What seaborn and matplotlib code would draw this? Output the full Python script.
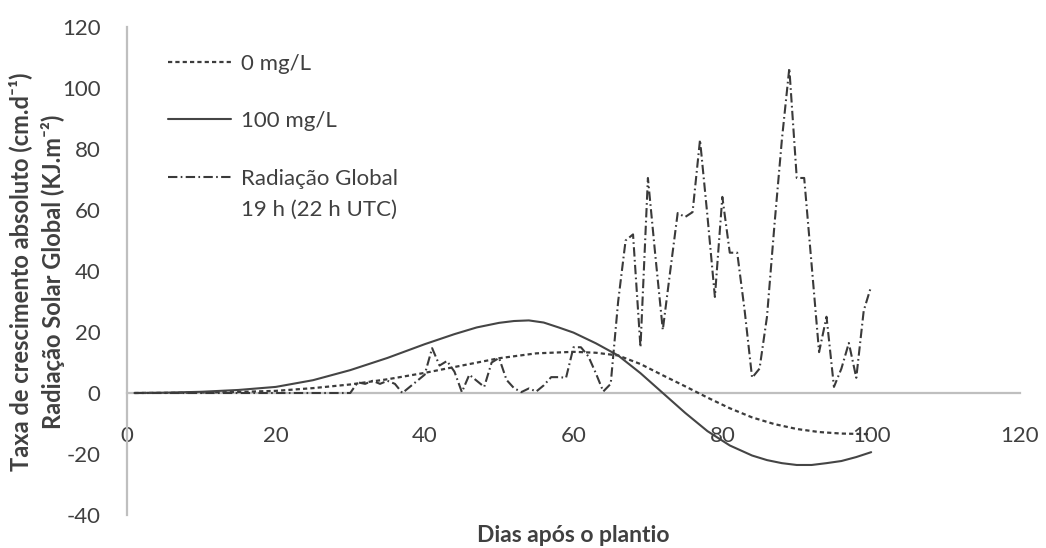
import matplotlib
matplotlib.use("Agg")
import matplotlib.pyplot as plt
import seaborn as sns

# Absolute growth rate, 0 mg/L treatment (cm per day)
dose0_days = [1, 5, 10, 15, 20, 25, 30, 35, 40, 45, 50, 55, 60, 63, 66, 69,
              72, 75, 78, 81, 84, 87, 90, 93, 96, 100]
dose0_values = [0.0, 0.05, 0.15, 0.35, 0.7, 1.6, 2.8, 4.5, 6.6, 9.0, 11.4, 13.0,
                13.5, 13.2, 12.3, 9.5, 5.8, 2.2, -1.5, -5.0, -8.0, -10.2, -11.8,
                -12.8, -13.3, -13.5]

# Absolute growth rate, 100 mg/L treatment (cm per day)
dose100_days = [1, 5, 10, 15, 20, 25, 30, 35, 40, 44, 47, 50, 52, 54, 56, 58,
                60, 63, 66, 69, 72, 75, 78, 81, 84, 86, 88, 90, 92, 94, 96, 98,
                100]
dose100_values = [0.0, 0.1, 0.4, 1.0, 2.0, 4.2, 7.5, 11.5, 16.0, 19.3, 21.5,
                  23.0, 23.6, 23.8, 23.1, 21.5, 19.8, 16.3, 12.3, 6.5, 0.0,
                  -6.5, -12.5, -17.2, -20.5, -22.0, -23.0, -23.6, -23.6, -23.0,
                  -22.3, -21.0, -19.4]

# Daily global solar radiation at 19 h (22 h UTC)
rad_days = list(range(1, 101))
rad_values = [
    0, 0, 0, 0, 0, 0, 0, 0, 0, 0,
    0, 0, 0, 0, 0, 0, 0, 0, 0, 0,
    0, 0, 0, 0, 0, 0, 0, 0, 0, 0,
    3.5, 3, 4, 3, 4, 3, 0, 2, 4, 6,
    14.7, 9, 10.5, 7, 0.3, 6, 4, 2, 10, 11.5,
    4.3, 1.6, 0.3, 1.5, 0.5, 2.5, 5.2, 5.2, 5, 15,
    15, 12, 6.5, 0.5, 3, 30, 50, 52, 15, 70.5,
    45, 20.7, 40, 59, 57.7, 59.3, 83, 58, 31.5, 64.3,
    46, 46, 27, 5, 8, 25, 55, 83, 106.5, 70.5,
    70.5, 42, 13.4, 25, 2, 8, 16.4, 5, 27, 35,
]

x_ticks = [0, 20, 40, 60, 80, 100, 120]
y_ticks = [-40, -20, 0, 20, 40, 60, 80, 100, 120]

sns.set_theme(style="white")
plt.rcParams["font.family"] = ["Lato", "DejaVu Sans"]
plt.rcParams["axes.unicode_minus"] = False

TEXT = "#404040"
AXIS = "#bfbfbf"

fig = plt.figure(figsize=(10.46, 5.48), dpi=100)
W, H = 1046, 548
ax = fig.add_axes([127 / W, 33 / H, 893 / W, 488 / H])

sns.lineplot(x=dose0_days, y=dose0_values, ax=ax, color="#3c3c3c",
             linewidth=1.6, linestyle=(0, (1.9, 1.4)), label="0 mg/L",
             estimator=None, sort=False)
sns.lineplot(x=dose100_days, y=dose100_values, ax=ax, color="#454545",
             linewidth=1.5, linestyle="-", label="100 mg/L",
             estimator=None, sort=False)
sns.lineplot(x=rad_days, y=rad_values, ax=ax, color="#3a3a3a",
             linewidth=1.5, linestyle=(0, (4.5, 1.6, 0.8, 1.6)),
             label="Radiação Global", estimator=None, sort=False)

ax.set_xlim(0, 120)
ax.set_ylim(-40, 120)
ax.set_xticks(x_ticks)
ax.set_yticks(y_ticks)
ax.grid(False)

ax.spines["bottom"].set_position(("data", 0))
for side in ("top", "right"):
    ax.spines[side].set_visible(False)
for side in ("left", "bottom"):
    ax.spines[side].set_color(AXIS)
    ax.spines[side].set_linewidth(1.6)
    ax.spines[side].set_zorder(1)

ax.tick_params(axis="x", length=0, pad=24, labelsize=16, labelcolor=TEXT)
ax.tick_params(axis="y", length=0, pad=19, labelsize=16, labelcolor=TEXT)

ax.set_xlabel("Dias após o plantio", fontsize=16.5, fontweight="bold", color=TEXT)
ax.xaxis.set_label_coords(0.5, -0.043)
ax.xaxis.label.set_va("center")

ax.set_ylabel("Taxa de crescimento absoluto (cm.d⁻¹)\n"
              "Radiação Solar Global (KJ.m⁻²)",
              fontsize=17, fontweight="bold", color=TEXT, linespacing=1.45)
ax.yaxis.set_label_coords(-0.1015, 0.498)
ax.yaxis.label.set_va("center")

leg = ax.legend(loc="upper left", bbox_to_anchor=(0.046, 0.945), frameon=False,
                fontsize=16, handlelength=2.84, handletextpad=0.45,
                labelspacing=1.68, borderpad=0, borderaxespad=0,
                labelcolor=TEXT)

# second line of the radiation entry, set under its label
fig.canvas.draw()
bb = leg.get_texts()[2].get_window_extent()
cy = (bb.y0 + bb.y1) / 2 - 31
fig.text(bb.x0 / W, cy / H, "19 h (22 h UTC)", fontsize=16, color=TEXT,
         ha="left", va="center")

fig.savefig("out.png", dpi=100)
